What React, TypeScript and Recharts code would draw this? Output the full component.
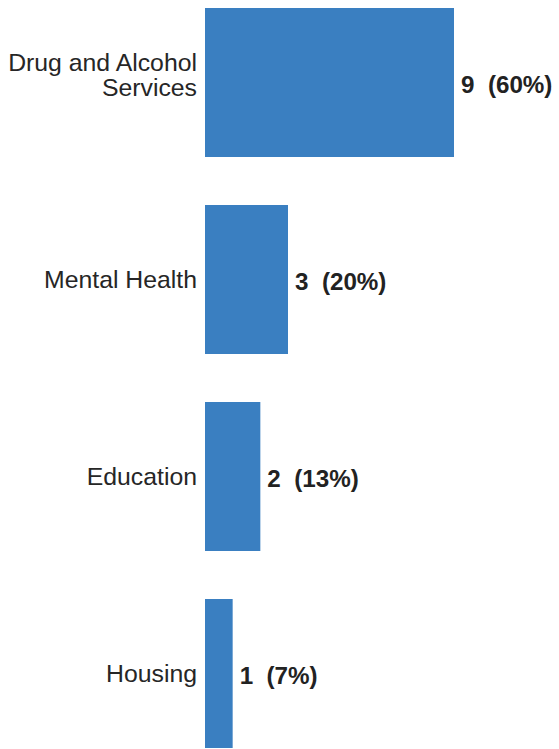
import React from "react";
import { BarChart, Bar, XAxis, YAxis, LabelList } from "recharts";

const categories = ["Drug and Alcohol\nServices", "Mental Health", "Education", "Housing"];
const counts = [9, 3, 2, 1];
const percents = [60, 20, 13, 7];

const data = categories.map((name, i) => ({
  name,
  count: counts[i],
  label: `${counts[i]}  (${percents[i]}%)`,
}));

const FONT = '"Liberation Sans", Arial, Helvetica, sans-serif';
const TEXT = "#262626";
const VALUE_TEXT = "#222222";
const BAR = "#3a7fc1";

const CategoryTick = (props: any) => {
  const { x, y, payload } = props;
  const lines = String(payload.value).split("\n");
  if (lines.length === 1) {
    return (
      <text x={x} y={y} dy="0.35em" textAnchor="end" fill={TEXT} fontSize={24.8} fontFamily={FONT}>
        {lines[0]}
      </text>
    );
  }
  return (
    <text x={x} y={y} textAnchor="end" fill={TEXT} fontSize={24.8} fontFamily={FONT}>
      <tspan x={x} dy={-12}>{lines[0]}</tspan>
      <tspan x={x} dy={25}>{lines[1]}</tspan>
    </text>
  );
};

const ValueLabel = (props: any) => {
  const { x, y, width, height, value } = props;
  return (
    <text
      x={Number(x) + Number(width) + 7}
      y={Number(y) + Number(height) / 2 + 2}
      dy="0.35em"
      textAnchor="start"
      fill={VALUE_TEXT}
      fontSize={24.2}
      fontWeight="bold"
      fontFamily={FONT}
      style={{ whiteSpace: "pre" }}
    >
      {value}
    </text>
  );
};

export default function App() {
  return (
    <div style={{ position: "fixed", left: 0, top: 0, width: 559, height: 749, overflow: "hidden", background: "#fff" }}>
      <div style={{ position: "absolute", left: 0, top: -16 }}>
        <BarChart
          width={559}
          height={788}
          data={data}
          layout="vertical"
          margin={{ top: 0, right: 22, bottom: 0, left: 0 }}
          barCategoryGap={24}
        >
          <XAxis type="number" domain={[0, 12]} hide />
          <YAxis
            type="category"
            dataKey="name"
            width={205}
            axisLine={false}
            tickLine={false}
            tick={<CategoryTick />}
            interval={0}
          />
          <Bar dataKey="count" fill={BAR} isAnimationActive={false}>
            <LabelList dataKey="label" content={<ValueLabel />} />
          </Bar>
        </BarChart>
      </div>
    </div>
  );
}
